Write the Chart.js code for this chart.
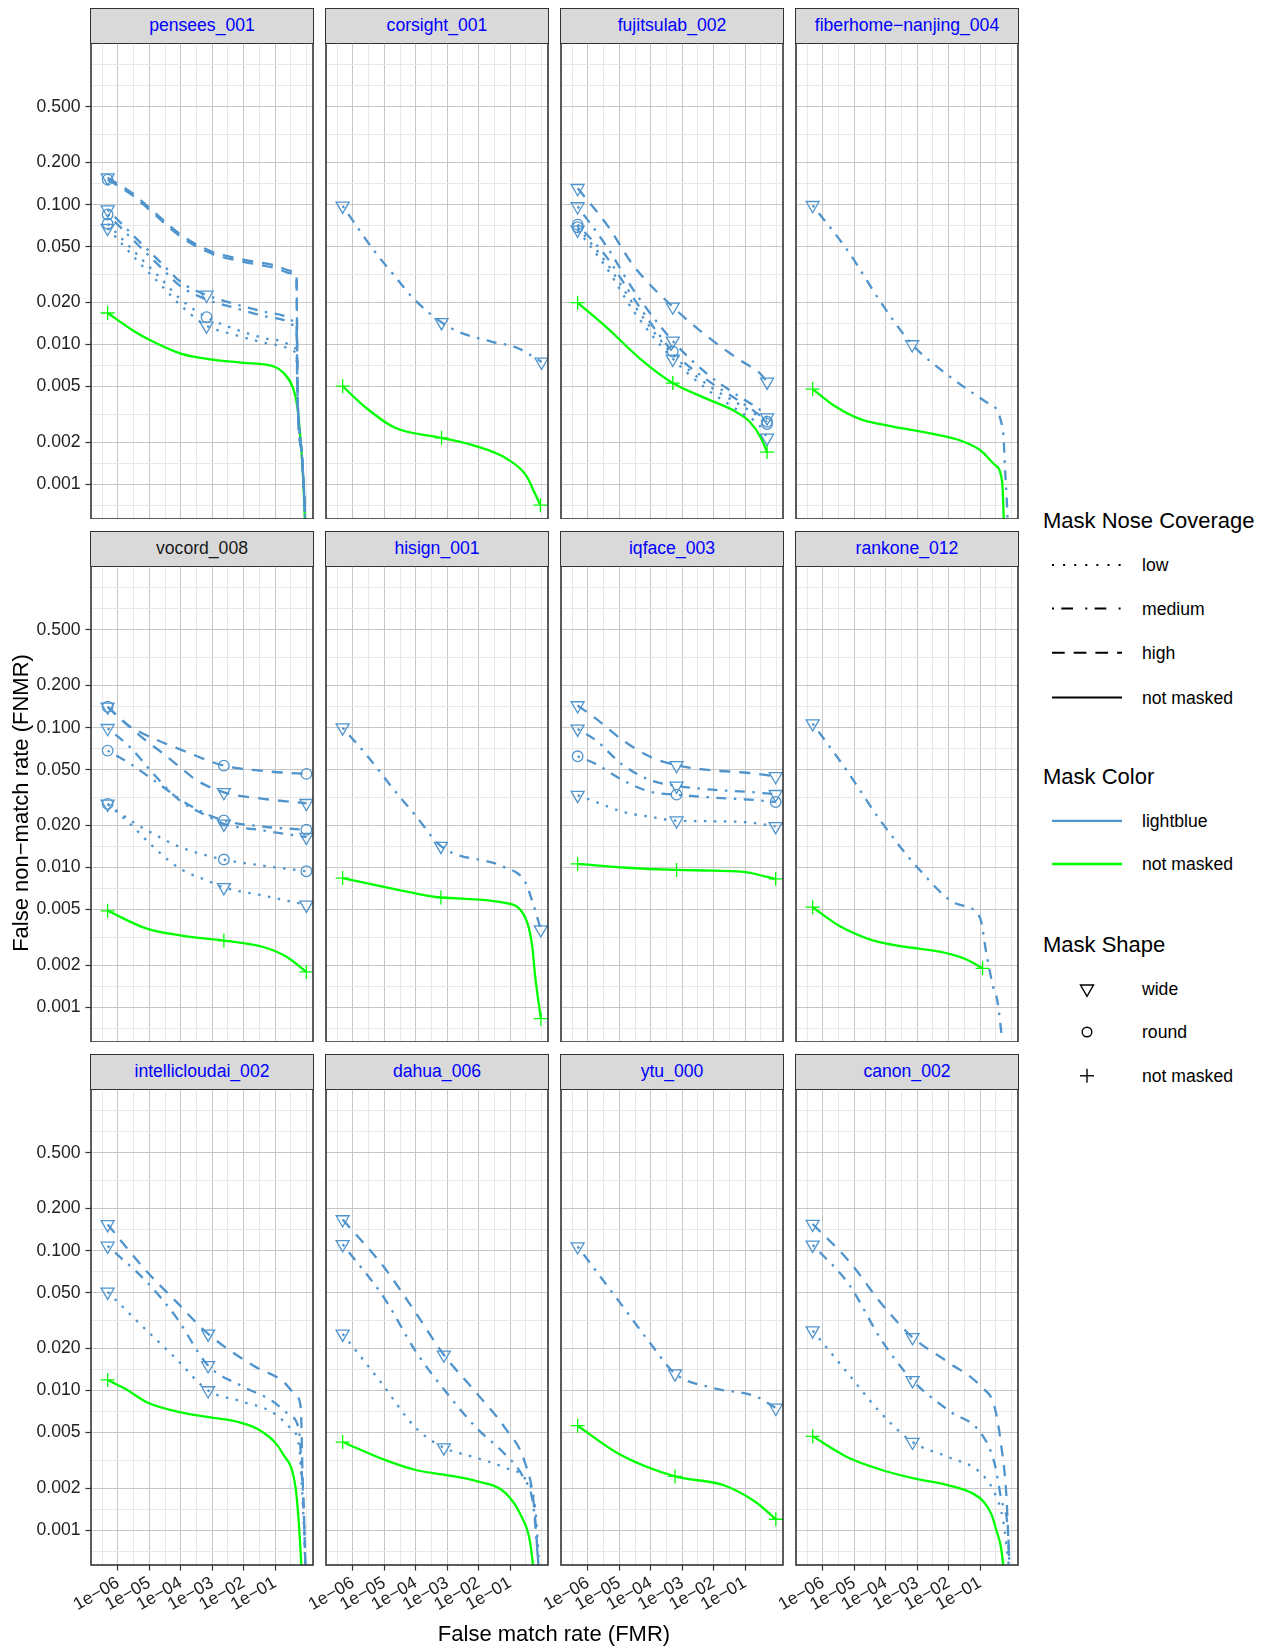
<!DOCTYPE html>
<html><head><meta charset="utf-8">
<script src="https://cdn.jsdelivr.net/npm/chart.js@4.4.1/dist/chart.umd.min.js"></script>
<style>
html,body{margin:0;padding:0;background:#fff;}
body{width:1274px;height:1647px;position:relative;overflow:hidden;font-family:"Liberation Sans",Arial,Helvetica,sans-serif;}
.pc{position:absolute;}
.pc canvas{display:block;}
.strip{position:absolute;box-sizing:border-box;background:#d9d9d9;border:1.6px solid #333;display:flex;align-items:center;justify-content:center;font-size:17.6px;color:#0000ff;white-space:nowrap;}
.lg{position:absolute;white-space:nowrap;color:#000;font-size:17.6px;line-height:20px;height:20px;}
.lgt{position:absolute;white-space:nowrap;color:#000;font-size:22px;line-height:26px;height:26px;}
.axt{position:absolute;white-space:nowrap;color:#000;font-size:22px;line-height:26px;}
</style></head><body>
<script>
// ---------------- data ----------------
const PANEL_NAMES = ['pensees_001','corsight_001','fujitsulab_002','fiberhome\u2212nanjing_004',
  'vocord_008','hisign_001','iqface_003','rankone_012',
  'intellicloudai_002','dahua_006','ytu_000','canon_002'];
const BLACK_STRIPS = ['vocord_008'];

const Y_TICKS = [0.001,0.002,0.005,0.01,0.02,0.05,0.1,0.2,0.5];
const Y_TICK_LABELS = ['0.001','0.002','0.005','0.010','0.020','0.050','0.100','0.200','0.500'];
const X_TICKS = [1e-6,1e-5,1e-4,1e-3,1e-2,1e-1];
const X_TICK_LABELS = ['1e\u221206','1e\u221205','1e\u221204','1e\u221203','1e\u221202','1e\u221201'];
const X_LIMITS = [1.39e-7, 1.607];
const Y_LIMITS = [0.000565, 1.432];

// each point: [FMR, FNMR, marker?]
const pensees_high_wide = [[4.7e-7,0.156,1],[3e-6,0.12],[1e-5,0.095],[1e-4,0.061],[1e-3,0.046],[1e-2,0.0405],[0.1,0.0367],[0.35,0.0335],[0.48,0.031],[0.52,0.0042],[0.7,0.0017],[0.85,0.0008],[0.95,0.0004]];
const pensees_high_round = [[4.7e-7,0.151,1],[3e-6,0.116],[1e-5,0.092],[1e-4,0.059],[1e-3,0.0445],[1e-2,0.039],[0.1,0.0352],[0.35,0.0322],[0.48,0.0298],[0.52,0.0042],[0.7,0.0017],[0.85,0.0008],[0.95,0.0004]];
const pensees_medium_wide = [[4.7e-7,0.092,1],[5e-6,0.054],[2.2e-5,0.039],[1e-4,0.028],[6.6e-4,0.0226,1],[4.7e-3,0.0196],[0.054,0.017],[0.18,0.0161],[0.37,0.0148],[0.48,0.0135],[0.52,0.0042],[0.7,0.0017],[0.85,0.0008],[0.95,0.0004]];
const pensees_medium_round = [[4.7e-7,0.085,1],[5e-6,0.05],[2.2e-5,0.036],[1e-4,0.026],[6.6e-4,0.021],[4.7e-3,0.0184],[0.054,0.0158],[0.18,0.015],[0.37,0.0138],[0.48,0.0125],[0.52,0.0042],[0.7,0.0017],[0.85,0.0008],[0.95,0.0004]];
const pensees_low_wide = [[4.7e-7,0.068,1],[5e-6,0.038],[2.2e-5,0.027],[1e-4,0.019],[6.6e-4,0.0136,1],[4.7e-3,0.0118],[0.054,0.0102],[0.18,0.0097],[0.37,0.009],[0.48,0.008],[0.52,0.0042],[0.7,0.0017],[0.85,0.0008],[0.95,0.0004]];
const pensees_low_round = [[4.7e-7,0.073,1],[5e-6,0.042],[2.2e-5,0.03],[1e-4,0.021],[6.6e-4,0.0157,1],[4.7e-3,0.013],[0.054,0.011],[0.18,0.0105],[0.37,0.0096],[0.48,0.0088],[0.52,0.0042],[0.7,0.0017],[0.85,0.0008],[0.95,0.0004]];
const pensees_none = [[4.7e-7,0.0168,1],[3e-6,0.0126],[1e-5,0.0108],[1e-4,0.0086],[1e-3,0.0078],[1e-2,0.0074],[0.1,0.0069],[0.18,0.0063],[0.37,0.0049],[0.51,0.0036],[0.68,0.0018],[0.8,0.001],[0.9,0.0005]];

const corsight_medium_wide = [[4.7e-7,0.098,1],[5e-6,0.046],[2.1e-5,0.031],[8.3e-5,0.0214],[6.6e-4,0.0144,1],[2.8e-3,0.0121],[0.025,0.0105],[0.18,0.0094],[1.0,0.0075,1]];
const corsight_none = [[4.7e-7,0.00503,1],[2.4e-6,0.00358],[2.1e-5,0.00255],[6.6e-4,0.00215,1],[8.5e-3,0.00187],[0.076,0.00153],[0.33,0.00115],[0.6,0.00087],[0.92,0.00071,1]];

const fujitsu_high_wide = [[4.7e-7,0.131,1],[4e-6,0.072],[3e-5,0.036],[5e-4,0.0186,1],[6e-3,0.0115],[0.07,0.0077],[0.3,0.0062],[0.5,0.0054,1]];
const fujitsu_medium_wide = [[4.7e-7,0.097,1],[4e-6,0.05],[3e-5,0.024],[5e-4,0.0106,1],[6e-3,0.0062],[0.07,0.0042],[0.3,0.0034],[0.5,0.003,1]];
const fujitsu_medium_round = [[4.7e-7,0.072,1],[4e-6,0.042],[3e-5,0.021],[5e-4,0.0089,1],[6e-3,0.0056],[0.07,0.0039],[0.3,0.0031],[0.5,0.0028,1]];
const fujitsu_low_round = [[4.7e-7,0.069,1],[4e-6,0.038],[3e-5,0.019],[5e-4,0.0085],[6e-3,0.0052],[0.07,0.0037],[0.3,0.003],[0.5,0.0027,1]];
const fujitsu_low_wide = [[4.7e-7,0.066,1],[4e-6,0.035],[3e-5,0.017],[5e-4,0.0079,1],[6e-3,0.0048],[0.07,0.0033],[0.3,0.0026],[0.5,0.00215,1]];
const fujitsu_none = [[4.7e-7,0.0199,1],[4e-6,0.0132],[4.6e-5,0.0079],[5e-4,0.0053,1],[5.9e-3,0.0041],[0.04,0.0034],[0.14,0.0028],[0.32,0.00215],[0.5,0.0017,1]];

const fiber_medium_wide = [[4.7e-7,0.099,1],[6.5e-6,0.046],[7.4e-5,0.0196],[6.9e-4,0.01,1],[9.8e-3,0.006],[0.18,0.0038],[0.54,0.0024],[0.62,0.0013],[0.7,0.0008],[0.78,0.00045]];
const fiber_none = [[4.7e-7,0.0048,1],[2.5e-6,0.0036],[1.7e-5,0.0029],[1.55e-4,0.0026],[2.9e-3,0.0023],[0.026,0.00204],[0.11,0.00173],[0.29,0.00138],[0.5,0.00105],[0.56,0.0006],[0.6,0.0003]];

const vocord_high_round = [[4.7e-7,0.141,1],[1.9e-6,0.106],[8.3e-6,0.088],[9.5e-5,0.07],[2.35e-3,0.0535,1],[0.042,0.049],[0.99,0.0467,1]];
const vocord_high_wide = [[4.7e-7,0.141,1],[2.5e-6,0.1],[8.3e-6,0.08],[2.8e-5,0.065],[9.5e-5,0.052],[3.2e-4,0.042],[2.35e-3,0.0345,1],[0.042,0.031],[0.99,0.0288,1]];
const vocord_medium_wide = [[4.7e-7,0.099,1],[2.5e-6,0.072],[1.35e-5,0.0467],[9.5e-5,0.03],[6.6e-4,0.0235],[2.35e-3,0.0205,1],[0.042,0.0184],[0.99,0.0165,1]];
const vocord_medium_round = [[4.7e-7,0.0685,1],[2.5e-6,0.055],[2.8e-5,0.0375],[1.95e-4,0.0277],[2.35e-3,0.0217,1],[0.042,0.0196],[0.99,0.0186,1]];
const vocord_low_round = [[4.7e-7,0.0285,1],[2.5e-6,0.0217],[1.35e-5,0.0174],[9.5e-5,0.014],[2.35e-3,0.0114,1],[0.042,0.0103],[0.99,0.0094,1]];
const vocord_low_wide = [[4.7e-7,0.0285,1],[2.5e-6,0.0204],[1.35e-5,0.014],[9.5e-5,0.0098],[6.6e-4,0.0081],[2.35e-3,0.0072,1],[0.042,0.0063],[0.99,0.0054,1]];
const vocord_none = [[4.7e-7,0.0049,1],[8.3e-6,0.00365],[9.5e-5,0.00327],[2.35e-3,0.003,1],[0.042,0.0027],[0.23,0.0023],[0.99,0.00179,1]];

const hisign_medium_wide = [[4.7e-7,0.1,1],[3e-6,0.062],[2e-5,0.036],[1e-4,0.0234],[6.3e-4,0.0142,1],[0.063,0.0101],[0.3,0.0079],[0.5,0.0058],[0.95,0.0036,1]];
const hisign_none = [[4.7e-7,0.0084,1],[3e-5,0.0069],[6.3e-4,0.0061,1],[0.063,0.0056],[0.3,0.0044],[0.5,0.0028],[0.63,0.00166],[0.95,0.00083,1]];

const iqface_high_wide = [[4.7e-7,0.144,1],[1.8e-6,0.116],[1.3e-5,0.081],[1e-4,0.0617],[6.6e-4,0.0538,1],[9e-3,0.0495],[0.13,0.0474],[0.94,0.0449,1]];
const iqface_medium_wide = [[4.7e-7,0.098,1],[1.8e-6,0.081],[1.3e-5,0.054],[1e-4,0.042],[6.6e-4,0.0383,1],[9e-3,0.036],[0.13,0.0347],[0.94,0.0334,1]];
const iqface_medium_round = [[4.7e-7,0.0624,1],[1.8e-6,0.055],[1.3e-5,0.042],[1e-4,0.0347],[6.6e-4,0.0332,1],[9e-3,0.0316],[0.13,0.0306],[0.94,0.0294,1]];
const iqface_low_wide = [[4.7e-7,0.0329,1],[1.8e-6,0.0294],[1.3e-5,0.025],[1e-4,0.023],[6.6e-4,0.0216,1],[9e-3,0.0214],[0.13,0.021],[0.94,0.0197,1]];
const iqface_none = [[4.7e-7,0.0106,1],[1.3e-5,0.01],[6.6e-4,0.0096,1],[9e-3,0.0095],[0.13,0.0092],[0.45,0.0086],[0.94,0.0083,1]];

const rankone_medium_wide = [[4.7e-7,0.107,1],[5.7e-6,0.0495],[6.6e-5,0.0218],[1.2e-3,0.0096],[0.018,0.0055],[0.098,0.0044],[0.16,0.0024],[0.26,0.0014],[0.35,0.00113],[0.5,0.0006]];
const rankone_none = [[4.7e-7,0.0052,1],[3.5e-6,0.0038],[4.1e-5,0.003],[4.6e-4,0.0027],[5.2e-3,0.0025],[0.037,0.0022],[0.12,0.0019,1]];

const intelli_high_wide = [[4.7e-7,0.154,1],[8.7e-6,0.07],[7e-5,0.0434],[7.4e-4,0.0254,1],[0.022,0.0149],[0.18,0.0116],[0.5,0.009],[0.66,0.0074],[0.74,0.0027],[0.85,0.00106],[0.95,0.0004]];
const intelli_medium_wide = [[4.7e-7,0.108,1],[8.7e-6,0.059],[7e-5,0.0336],[7.4e-4,0.0151,1],[7.7e-3,0.0109],[0.081,0.0084],[0.3,0.0066],[0.58,0.0051],[0.7,0.0027],[0.85,0.00106],[0.95,0.0004]];
const intelli_low_wide = [[4.7e-7,0.0507,1],[5.2e-6,0.0297],[7e-5,0.0169],[7.4e-4,0.01,1],[7.7e-3,0.0084],[0.081,0.007],[0.3,0.0054],[0.58,0.004],[0.7,0.0022],[0.85,0.0009],[0.95,0.0004]];
const intelli_none = [[4.7e-7,0.0119,1],[1.8e-6,0.0102],[8.7e-6,0.0082],[9e-5,0.007],[9.5e-4,0.0064],[7.8e-3,0.0059],[0.037,0.0051],[0.18,0.0035],[0.45,0.002],[0.58,0.00106],[0.74,0.0004]];

const dahua_high_wide = [[4.7e-7,0.167,1],[9.8e-6,0.076],[1e-4,0.0359],[7.8e-4,0.018,1],[8.5e-3,0.0096],[0.069,0.0054],[0.29,0.0031],[0.56,0.0016],[0.83,0.0005]];
const dahua_medium_wide = [[4.7e-7,0.111,1],[9.8e-6,0.046],[1e-4,0.019],[7.8e-4,0.0102],[8.5e-3,0.0054],[0.069,0.0035],[0.26,0.0024],[0.56,0.00145],[0.83,0.0005]];
const dahua_low_wide = [[4.7e-7,0.0254,1],[7.4e-6,0.0116],[1e-4,0.0054],[7.8e-4,0.0039,1],[8.5e-3,0.0033],[0.069,0.0028],[0.33,0.00226],[0.63,0.00145],[0.83,0.0006]];
const dahua_none = [[4.7e-7,0.00428,1],[9.8e-6,0.0032],[1e-4,0.0027],[7.8e-4,0.0025],[8.5e-3,0.00225],[0.069,0.00186],[0.22,0.00128],[0.43,0.00083],[0.63,0.0004]];

const ytu_medium_wide = [[4.7e-7,0.107,1],[1e-5,0.043],[1e-4,0.0215],[5.9e-4,0.0132,1],[0.01,0.0104],[0.21,0.0091],[0.95,0.0075,1]];
const ytu_none = [[4.7e-7,0.0056,1],[1e-5,0.0035],[5.9e-4,0.00243,1],[0.021,0.0021],[0.21,0.0016],[0.95,0.0012,1]];

const canon_high_wide = [[4.7e-7,0.155,1],[6.5e-6,0.085],[7.4e-5,0.0416],[7.1e-4,0.024,1],[9.8e-3,0.0159],[0.11,0.0106],[0.29,0.0076],[0.48,0.0039],[0.69,0.00173],[0.87,0.0005]];
const canon_medium_wide = [[4.7e-7,0.11,1],[6.5e-6,0.058],[7.4e-5,0.0228],[7.1e-4,0.0118,1],[9.8e-3,0.0072],[0.11,0.0049],[0.29,0.003],[0.48,0.00164],[0.78,0.00095],[0.9,0.0004]];
const canon_low_wide = [[4.7e-7,0.0268,1],[6.5e-6,0.0131],[7.4e-5,0.0068],[7.1e-4,0.00428,1],[9.8e-3,0.00334],[0.11,0.00254],[0.33,0.00173],[0.54,0.00118],[0.87,0.0005]];
const canon_none = [[4.7e-7,0.0047,1],[6.5e-6,0.0033],[7.4e-5,0.0027],[8.5e-4,0.00234],[9.8e-3,0.0021],[0.06,0.00183],[0.13,0.0016],[0.23,0.0013],[0.33,0.001],[0.46,0.00076],[0.58,0.0005]];

// panel index, nose coverage, mask shape, values
const LINES = [
  [0,'high','wide',pensees_high_wide],[0,'high','round',pensees_high_round],
  [0,'medium','wide',pensees_medium_wide],[0,'medium','round',pensees_medium_round],
  [0,'low','wide',pensees_low_wide],[0,'low','round',pensees_low_round],[0,'none','none',pensees_none],
  [1,'medium','wide',corsight_medium_wide],[1,'none','none',corsight_none],
  [2,'high','wide',fujitsu_high_wide],[2,'medium','wide',fujitsu_medium_wide],[2,'medium','round',fujitsu_medium_round],
  [2,'low','round',fujitsu_low_round],[2,'low','wide',fujitsu_low_wide],[2,'none','none',fujitsu_none],
  [3,'medium','wide',fiber_medium_wide],[3,'none','none',fiber_none],
  [4,'high','round',vocord_high_round],[4,'high','wide',vocord_high_wide],
  [4,'medium','wide',vocord_medium_wide],[4,'medium','round',vocord_medium_round],
  [4,'low','round',vocord_low_round],[4,'low','wide',vocord_low_wide],[4,'none','none',vocord_none],
  [5,'medium','wide',hisign_medium_wide],[5,'none','none',hisign_none],
  [6,'high','wide',iqface_high_wide],[6,'medium','wide',iqface_medium_wide],[6,'medium','round',iqface_medium_round],
  [6,'low','wide',iqface_low_wide],[6,'none','none',iqface_none],
  [7,'medium','wide',rankone_medium_wide],[7,'none','none',rankone_none],
  [8,'high','wide',intelli_high_wide],[8,'medium','wide',intelli_medium_wide],[8,'low','wide',intelli_low_wide],[8,'none','none',intelli_none],
  [9,'high','wide',dahua_high_wide],[9,'medium','wide',dahua_medium_wide],[9,'low','wide',dahua_low_wide],[9,'none','none',dahua_none],
  [10,'medium','wide',ytu_medium_wide],[10,'none','none',ytu_none],
  [11,'high','wide',canon_high_wide],[11,'medium','wide',canon_medium_wide],[11,'low','wide',canon_low_wide],[11,'none','none',canon_none]
];

// ---------------- styles / layout ----------------
const FONT = '"Liberation Sans", Arial, Helvetica, sans-serif';
const BLUE = '#4f94cd', GREEN = '#00ff00';
const GRID_MAJOR = '#c6c6c6', GRID_MINOR = '#e8e8e8';
const DASH = {low:[2.5,7.5], medium:[2.5,7.5,10,7.5], high:[11,9], none:[]};
const SHAPE_STYLE = {wide:'triangle', round:'circle', none:'cross'};
const SHAPE_R = {wide:7.5, round:5.3, none:7};
const COL_LEFT = [91, 326, 561, 796];
const ROW_TOP = [43, 566, 1089];
const PANEL_W = 222, PANEL_H = 476, AXIS_W = 91, PAD_R = 4, X_AXIS_H = 80, STRIP_H = 35;

function tickObjects(majors, labels, lo, hi) {
  const step = majors[1] / majors[0];
  const ext = [majors[0] / step, ...majors, majors[majors.length - 1] * step];
  const cand = [];
  for (let i = 0; i < ext.length; i++) {
    cand.push(ext[i]);
    if (i < ext.length - 1) cand.push(Math.sqrt(ext[i] * ext[i + 1]));
  }
  const list = cand.filter(v => v >= lo && v <= hi && !majors.some(m => Math.abs(m / v - 1) < 1e-6))
    .map(v => ({value: v, minor: true, lab: ''}));
  majors.forEach((v, i) => list.push({value: v, minor: false, lab: labels[i]}));
  return list;
}

const panelBorder = {
  id: 'panelBorder',
  afterDraw(chart) {
    const a = chart.chartArea, c = chart.ctx;
    c.save(); c.strokeStyle = '#333'; c.lineWidth = 1.6;
    c.strokeRect(a.left, a.top, a.right - a.left, a.bottom - a.top);
    c.restore();
  }
};

function makeDataset(cov, shape, arr) {
  const masked = cov !== 'none';
  const col = masked ? BLUE : GREEN;
  return {
    data: arr.map(p => ({x: p[0], y: p[1], m: p[2] === 1})),
    borderColor: col, borderWidth: 2.3, borderDash: DASH[cov],
    borderCapStyle: 'butt', borderJoinStyle: 'round',
    cubicInterpolationMode: 'monotone', fill: false,
    pointStyle: SHAPE_STYLE[shape], pointRotation: shape === 'wide' ? 180 : 0,
    pointRadius: ctx => (ctx.raw && ctx.raw.m) ? SHAPE_R[shape] : 0,
    pointHoverRadius: 0, pointBorderWidth: 1.3,
    pointBorderColor: col, pointBackgroundColor: 'rgba(0,0,0,0)'
  };
}

function gridColor(c) { return c.tick && c.tick.minor ? GRID_MINOR : GRID_MAJOR; }
function tickMarkColor(c) { return c.tick && c.tick.minor ? 'rgba(0,0,0,0)' : '#333'; }

function buildPanel(i) {
  const col = i % 4, row = Math.floor(i / 4);
  const L = COL_LEFT[col], T = ROW_TOP[row];
  const showY = col === 0, showX = row === 2;

  const strip = document.createElement('div');
  strip.className = 'strip';
  strip.style.left = (L - 0.8) + 'px'; strip.style.top = (T - STRIP_H) + 'px';
  strip.style.width = (PANEL_W + 1.6) + 'px'; strip.style.height = (STRIP_H + 0.8) + 'px';
  strip.textContent = PANEL_NAMES[i];
  if (BLACK_STRIPS.includes(PANEL_NAMES[i])) strip.style.color = '#1a1a1a';
  document.body.appendChild(strip);

  const W = AXIS_W + PANEL_W + PAD_R, H = PANEL_H + (showX ? X_AXIS_H : 0);
  const div = document.createElement('div');
  div.className = 'pc';
  div.style.left = (L - AXIS_W) + 'px'; div.style.top = T + 'px';
  div.style.width = W + 'px'; div.style.height = H + 'px';
  const cv = document.createElement('canvas');
  cv.width = W; cv.height = H; cv.style.width = W + 'px'; cv.style.height = H + 'px';
  div.appendChild(cv);
  document.body.appendChild(div);

  const blue = LINES.filter(l => l[0] === i && l[1] !== 'none');
  const green = LINES.filter(l => l[0] === i && l[1] === 'none');
  const datasets = [...blue, ...green].map(l => makeDataset(l[1], l[2], l[3]));

  const zeroPad = s => { s.paddingLeft = 0; s.paddingRight = 0; s.paddingTop = 0; s.paddingBottom = 0; };

  new Chart(cv, {
    type: 'line',
    data: {datasets},
    plugins: [panelBorder],
    options: {
      responsive: false, animation: false, events: [],
      devicePixelRatio: 1,
      layout: {autoPadding: false, padding: {left: 0, right: PAD_R, top: 0, bottom: 0}},
      plugins: {legend: {display: false}, tooltip: {enabled: false}},
      scales: {
        x: {
          type: 'logarithmic', position: 'bottom', min: X_LIMITS[0], max: X_LIMITS[1],
          afterBuildTicks: s => { s.ticks = tickObjects(X_TICKS, X_TICK_LABELS, X_LIMITS[0], X_LIMITS[1]); },
          afterFit: s => { s.height = showX ? X_AXIS_H : 0; zeroPad(s); },
          border: {display: false},
          grid: {color: gridColor, lineWidth: 1, drawTicks: showX, tickLength: 5.5, tickColor: tickMarkColor, tickWidth: 1.2},
          ticks: {display: showX, autoSkip: false, minRotation: 30, maxRotation: 30, padding: 2,
            color: '#222', font: {family: FONT, size: 17.6},
            callback: (v, idx, t) => t[idx].lab}
        },
        y: {
          type: 'logarithmic', position: 'left', min: Y_LIMITS[0], max: Y_LIMITS[1],
          afterBuildTicks: s => { s.ticks = tickObjects(Y_TICKS, Y_TICK_LABELS, Y_LIMITS[0], Y_LIMITS[1]); },
          afterFit: s => { s.width = AXIS_W; zeroPad(s); },
          border: {display: false},
          grid: {color: gridColor, lineWidth: 1, drawTicks: showY, tickLength: 5.5, tickColor: tickMarkColor, tickWidth: 1.2},
          ticks: {display: showY, autoSkip: false, padding: 5,
            color: '#222', font: {family: FONT, size: 17.6},
            callback: (v, idx, t) => t[idx].lab}
        }
      }
    }
  });
}

for (let i = 0; i < PANEL_NAMES.length; i++) buildPanel(i);

// ---------------- axis titles ----------------
function addText(cls, txt, x, y, extra) {
  const d = document.createElement('div');
  d.className = cls; d.textContent = txt;
  d.style.left = x + 'px'; d.style.top = y + 'px';
  if (extra) Object.assign(d.style, extra);
  document.body.appendChild(d);
  return d;
}
addText('axt', 'False match rate (FMR)', 554, 1634, {transform: 'translate(-50%,-50%)'});
addText('axt', 'False non\u2212match rate (FNMR)', 21, 803, {transform: 'translate(-50%,-50%) rotate(-90deg)'});

// ---------------- legend ----------------
const LEG_COVERAGE = [['low', '2 9.1'], ['medium', '2 7.3 11.7 12.3'], ['high', '12.7 9'], ['not masked', '']];
const LEG_COLOR = [['lightblue', BLUE], ['not masked', GREEN]];
const LEG_SHAPE = ['wide', 'round', 'not masked'];
const LX = 1043, KEY_X0 = 1052, KEY_X1 = 1122, LAB_X = 1142, SYM_X = 1087;
const covY = [565, 608.6, 652.8, 697.5], colY = [820.8, 864], shpY = [988.8, 1032, 1075.8];

addText('lgt', 'Mask Nose Coverage', LX, 521 - 13);
addText('lgt', 'Mask Color', LX, 776.6 - 13);
addText('lgt', 'Mask Shape', LX, 944.5 - 13);

const NS = 'http://www.w3.org/2000/svg';
const svg = document.createElementNS(NS, 'svg');
svg.setAttribute('width', 1274); svg.setAttribute('height', 1647);
svg.style.position = 'absolute'; svg.style.left = '0px'; svg.style.top = '0px';
function el(tag, attrs) { const e = document.createElementNS(NS, tag); for (const k in attrs) e.setAttribute(k, attrs[k]); svg.appendChild(e); return e; }

LEG_COVERAGE.forEach((c, k) => {
  const a = {x1: KEY_X0, x2: KEY_X1, y1: covY[k], y2: covY[k], stroke: '#000', 'stroke-width': 2};
  if (c[1]) a['stroke-dasharray'] = c[1];
  el('line', a);
  addText('lg', c[0], LAB_X, covY[k] - 10);
});
LEG_COLOR.forEach((c, k) => {
  el('line', {x1: KEY_X0, x2: KEY_X1, y1: colY[k], y2: colY[k], stroke: c[1], 'stroke-width': 2.3});
  addText('lg', c[0], LAB_X, colY[k] - 10);
});
LEG_SHAPE.forEach((s, k) => {
  const y = shpY[k];
  if (k === 0) el('polygon', {points: `${SYM_X-6.5},${y-3.8} ${SYM_X+6.5},${y-3.8} ${SYM_X},${y+7.5}`, fill: 'none', stroke: '#000', 'stroke-width': 1.4});
  else if (k === 1) el('circle', {cx: SYM_X, cy: y, r: 4.8, fill: 'none', stroke: '#000', 'stroke-width': 1.4});
  else { el('line', {x1: SYM_X - 7, x2: SYM_X + 7, y1: y, y2: y, stroke: '#000', 'stroke-width': 1.4});
         el('line', {x1: SYM_X, x2: SYM_X, y1: y - 7, y2: y + 7, stroke: '#000', 'stroke-width': 1.4}); }
  addText('lg', s, LAB_X, y - 10);
});
document.body.appendChild(svg);
</script>
</body></html>
